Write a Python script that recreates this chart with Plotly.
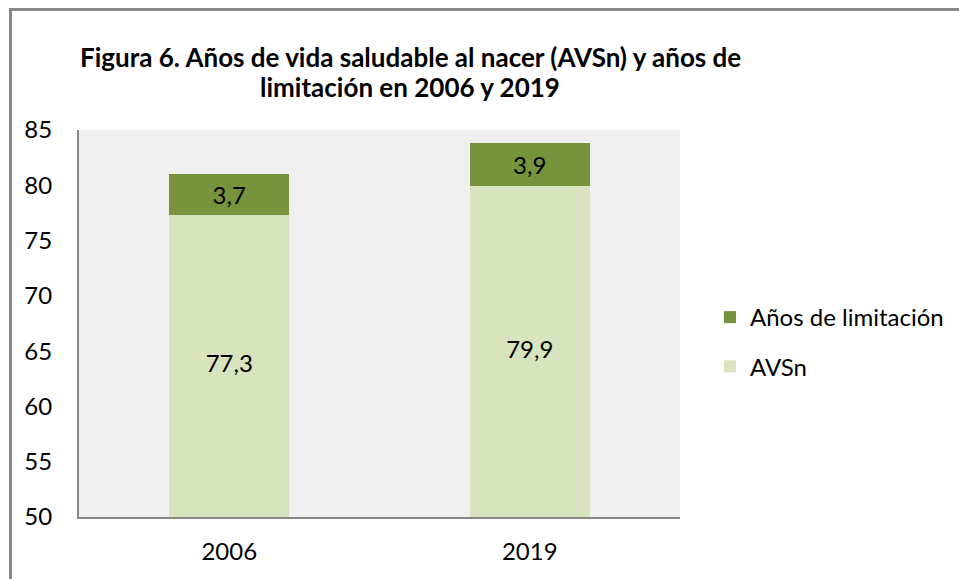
import plotly.graph_objects as go

years = ["2006", "2019"]
avsn = [77.3, 79.9]
limitacion = [3.7, 3.9]
avsn_labels = ["77,3", "79,9"]
lim_labels = ["3,7", "3,9"]
y_ticks = [50, 55, 60, 65, 70, 75, 80, 85]
y_min, y_max = 50, 85
title_lines = ["<b>Figura 6. Años de vida saludable al nacer (AVSn) y años de</b>",
               "<b>limitación en 2006 y 2019</b>"]

FONT = "Lato"
W, H = 959, 579
L, R, T, B = 79, 279, 130, 62
pw, ph = W - L - R, H - T - B

def px_x(x):
    return (x - L) / pw

def px_y(y):
    return (H - B - y) / ph

fig = go.Figure()
fig.add_trace(go.Bar(
    x=years, y=avsn, name="AVSn",
    marker=dict(color="#D7E4BD", line=dict(width=0)),
    legendgroup="b", legendrank=2, hoverinfo="y+name",
))
fig.add_trace(go.Bar(
    x=years, y=limitacion, name="Años de limitación",
    marker=dict(color="#77933C", line=dict(width=0)),
    text=lim_labels, textposition="inside", insidetextanchor="middle",
    textfont=dict(family=FONT, size=24, color="black"),
    legendgroup="a", legendrank=1,
))
# labels of the visible part of the AVSn segment (axis starts at 50)
fig.add_trace(go.Scatter(
    x=years, y=[(y_min + v) / 2 for v in avsn], mode="text",
    text=avsn_labels, textposition="middle center",
    textfont=dict(family=FONT, size=24, color="black"),
    showlegend=False, hoverinfo="skip",
))

fig.update_layout(
    width=W, height=H,
    barmode="stack", bargap=0.6,
    margin=dict(l=L, r=R, t=T, b=B, autoexpand=False),
    paper_bgcolor="white", plot_bgcolor="#F0F0F0",
    font=dict(family=FONT, size=24, color="black"),
    showlegend=True,
    legend=dict(
        x=px_x(710), y=px_y(342), xanchor="left", yanchor="middle",
        traceorder="grouped", tracegroupgap=15,
        font=dict(family=FONT, size=24, color="black"),
        bgcolor="rgba(0,0,0,0)",
    ),
)
for txt, ypix in zip(title_lines, [57, 87]):
    fig.add_annotation(
        text=txt, xref="paper", yref="paper",
        x=px_x(410), y=px_y(ypix), xanchor="center", yanchor="middle",
        showarrow=False, font=dict(family=FONT, size=26, color="black"),
    )
fig.update_yaxes(
    range=[y_min, y_max], tickvals=y_ticks, showgrid=False, zeroline=False,
    showline=True, linecolor="#868686", linewidth=2,
    ticks="", ticklabelstandoff=20,
    tickfont=dict(family=FONT, size=24, color="black"),
)
fig.update_xaxes(
    showgrid=False, zeroline=False,
    showline=True, linecolor="#868686", linewidth=2,
    ticks="", ticklabelstandoff=12,
    tickfont=dict(family=FONT, size=24, color="black"),
)
fig.add_shape(
    type="rect", xref="paper", yref="paper",
    x0=px_x(10.5), y0=px_y(700), x1=px_x(1100), y1=px_y(9.5),
    line=dict(color="#898989", width=3), fillcolor="rgba(0,0,0,0)", layer="above",
)

fig.write_html("out.html", config={"displayModeBar": False},
               post_script="document.body.style.margin='0';document.body.style.padding='0';")
